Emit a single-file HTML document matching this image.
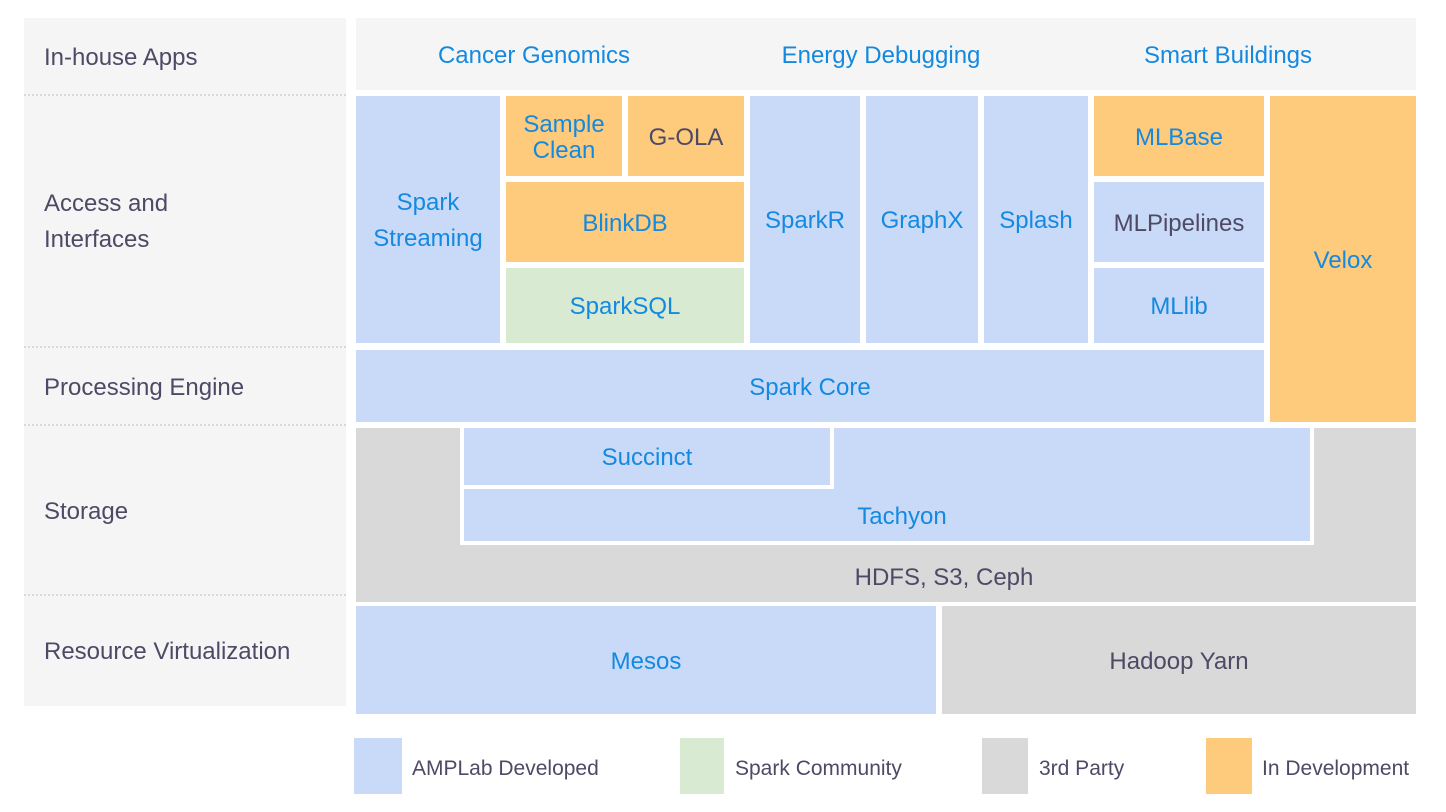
<!DOCTYPE html>
<html><head><meta charset="utf-8"><style>
body{margin:0;width:1446px;height:812px;background:#fff;position:relative;overflow:hidden;font-family:"Liberation Sans",sans-serif;}
.b{position:absolute;display:flex;align-items:center;justify-content:center;text-align:center;font-size:24px;color:#1489e0;line-height:26px;box-sizing:border-box;padding-top:3px;}
.bl{background:#c9daf8}.or{background:#fdcb7b}.gr{background:#d9ead3}.gy{background:#d9d9d9}
.dk{color:#4e4a66}
.lab{position:absolute;left:44px;font-size:24px;color:#4e4a66;line-height:36px;}
.sep{position:absolute;left:24px;width:322px;border-top:2px dotted #d8d8d8;}
.lt{position:absolute;font-size:21px;color:#4e4a66;top:757px;}
</style></head><body>
<div style="position:absolute;left:24px;top:18px;width:322px;height:688px;background:#f5f5f5"></div>
<div class="sep" style="top:94px"></div>
<div class="sep" style="top:346px"></div>
<div class="sep" style="top:424px"></div>
<div class="sep" style="top:594px"></div>
<div class="lab" style="top:40px">In-house Apps</div>
<div class="lab" style="top:186px">Access and<br>Interfaces</div>
<div class="lab" style="top:370px">Processing Engine</div>
<div class="lab" style="top:494px">Storage</div>
<div class="lab" style="top:634px">Resource Virtualization</div>

<div style="position:absolute;left:356px;top:18px;width:1060px;height:72px;background:#f5f5f5"></div>
<div class="b" style="left:400px;top:18px;width:268px;height:72px">Cancer Genomics</div>
<div class="b" style="left:740px;top:18px;width:282px;height:72px">Energy Debugging</div>
<div class="b" style="left:1100px;top:18px;width:256px;height:72px">Smart Buildings</div>

<div class="b bl" style="left:356px;top:96px;width:144px;height:247px;line-height:36px">Spark<br>Streaming</div>
<div class="b or" style="left:506px;top:96px;width:116px;height:80px">Sample<br>Clean</div>
<div class="b or dk" style="left:628px;top:96px;width:116px;height:80px">G-OLA</div>
<div class="b or" style="left:506px;top:182px;width:238px;height:80px">BlinkDB</div>
<div class="b gr" style="left:506px;top:268px;width:238px;height:75px">SparkSQL</div>
<div class="b bl" style="left:750px;top:96px;width:110px;height:247px">SparkR</div>
<div class="b bl" style="left:866px;top:96px;width:112px;height:247px">GraphX</div>
<div class="b bl" style="left:984px;top:96px;width:104px;height:247px">Splash</div>
<div class="b or" style="left:1094px;top:96px;width:170px;height:80px">MLBase</div>
<div class="b bl dk" style="left:1094px;top:182px;width:170px;height:80px">MLPipelines</div>
<div class="b bl" style="left:1094px;top:268px;width:170px;height:75px">MLlib</div>
<div class="b or" style="left:1270px;top:96px;width:146px;height:326px">Velox</div>
<div class="b bl" style="left:356px;top:350px;width:908px;height:72px">Spark Core</div>

<div class="b gy dk" style="left:356px;top:428px;width:1060px;height:174px;align-items:flex-end;padding-bottom:11px;padding-left:116px">HDFS, S3, Ceph</div>
<div style="position:absolute;left:460px;top:426px;width:854px;height:119px;background:#fff"></div>
<div class="b bl" style="left:464px;top:428px;width:846px;height:113px;align-items:flex-end;padding-bottom:11px;padding-left:30px">Tachyon</div>
<div style="position:absolute;left:464px;top:428px;width:370px;height:61px;background:#fff"></div>
<div class="b bl" style="left:464px;top:428px;width:366px;height:57px">Succinct</div>

<div class="b bl" style="left:356px;top:606px;width:580px;height:108px">Mesos</div>
<div class="b gy dk" style="left:942px;top:606px;width:474px;height:108px">Hadoop Yarn</div>

<div class="bl" style="position:absolute;left:354px;top:738px;width:48px;height:56px"></div>
<div class="lt" style="left:412px">AMPLab Developed</div>
<div class="gr" style="position:absolute;left:680px;top:738px;width:44px;height:56px"></div>
<div class="lt" style="left:735px">Spark Community</div>
<div class="gy" style="position:absolute;left:982px;top:738px;width:46px;height:56px"></div>
<div class="lt" style="left:1039px">3rd Party</div>
<div class="or" style="position:absolute;left:1206px;top:738px;width:46px;height:56px"></div>
<div class="lt" style="left:1262px">In Development</div>
</body></html>
